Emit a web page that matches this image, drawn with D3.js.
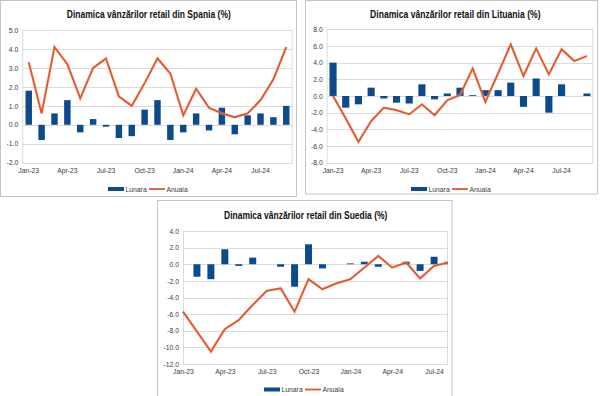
<!DOCTYPE html>
<html>
<head>
<meta charset="utf-8">
<script src="https://cdn.jsdelivr.net/npm/d3@7"></script>
<style>
  html, body { margin: 0; padding: 0; background: #ffffff; }
  svg { display: block; }
  text { font-family: "Liberation Sans", Arial, sans-serif; }
</style>
</head>
<body>
<svg id="chart" width="600" height="396"></svg>
<script>
// ---------- data ----------
const months21 = ["Jan-23","Feb-23","Mar-23","Apr-23","May-23","Jun-23","Jul-23","Aug-23","Sep-23","Oct-23","Nov-23","Dec-23",
                  "Jan-24","Feb-24","Mar-24","Apr-24","May-24","Jun-24","Jul-24","Aug-24","Sep-24"];
const months20 = months21.slice(0, 20);
const xTickLabels = ["Jan-23","Apr-23","Jul-23","Oct-23","Jan-24","Apr-24","Jul-24"];
const seriesNames = ["Lunara", "Anuala"];

const spainTitle = "Dinamica vânzărilor retail din Spania (%)";
const spainLunara = [1.8,-0.8,0.6,1.3,-0.4,0.3,-0.1,-0.7,-0.6,0.8,1.3,-0.8,-0.4,0.6,-0.3,0.9,-0.5,0.5,0.6,0.4,1.0];
const spainAnuala = [3.3,0.6,4.1,3.2,1.4,3.0,3.5,1.5,1.0,2.2,3.5,2.7,0.5,1.9,0.9,0.6,0.4,0.6,1.3,2.4,4.1];
const spainYTicks = [5,4,3,2,1,0,-1,-2];

const lituaniaTitle = "Dinamica vânzărilor retail din Lituania (%)";
const lituaniaLunara = [4.0,-1.4,-1.0,1.0,-0.3,-0.8,-0.9,1.4,-0.4,0.3,1.0,0.1,0.7,0.7,1.6,-1.3,2.1,-2.0,1.4,0.0,0.3];
const lituaniaAnuala = [0.0,-2.7,-5.5,-3.0,-1.4,-1.7,-2.2,-1.0,-2.3,-0.5,0.1,3.3,-0.7,2.7,6.2,2.4,5.7,2.6,5.6,4.2,4.8];
const lituaniaYTicks = [8,6,4,2,0,-2,-4,-6,-8];

const suediaTitle = "Dinamica vânzărilor retail din Suedia (%)";
const suediaLunara = [0.0,-1.5,-1.8,1.8,-0.2,0.8,0.0,-0.3,-2.7,2.4,-0.5,0.0,0.1,0.3,-0.3,0.0,0.3,-0.8,0.9,0.3];
const suediaAnuala = [-5.7,-8.1,-10.5,-7.8,-6.7,-4.9,-3.2,-2.9,-5.7,-1.8,-3.0,-2.3,-1.8,-0.4,1.0,-0.4,0.2,-1.7,-0.2,0.2];
const suediaYTicks = [4,2,0,-2,-4,-6,-8,-10,-12];

// ---------- styles ----------
const BLUE = "#0b4a8b";
const ORANGE = "#e0562c";
const GRID = "#dcdcdc";
const TXT = "#3a3a3a";

const svg = d3.select("#chart");
const fmt = v => v.toFixed(1);

function drawPanel(cfg, idx) {
  const g = svg.append("g");
  const clipId = "clip" + idx;

  // panel frame
  g.append("rect")
    .attr("x", cfg.panel[0]).attr("y", cfg.panel[1])
    .attr("width", cfg.panel[2]).attr("height", cfg.panel[3])
    .attr("fill", "#fff").attr("stroke", "#c4c4c4").attr("stroke-width", 1);

  const [L, T, R, B] = cfg.plot;
  const y = d3.scaleLinear().domain(d3.extent(cfg.yTicks)).range([B, T]);

  let x, bw;
  if (cfg.onTicks) {
    x = d3.scalePoint().domain(cfg.categories).range([L, R]).padding(0);
    bw = x.step() * 0.5;
  } else {
    x = d3.scaleBand().domain(cfg.categories).range([L, R]).paddingInner(0).paddingOuter(0);
    bw = x.bandwidth() * cfg.barRatio;
  }
  const cx = c => cfg.onTicks ? x(c) : x(c) + x.bandwidth() / 2;

  svg.append("clipPath").attr("id", clipId)
    .append("rect").attr("x", L).attr("y", T).attr("width", R - L).attr("height", B - T);

  // gridlines
  g.append("g").selectAll("line").data(cfg.yTicks).join("line")
    .attr("x1", L).attr("x2", R)
    .attr("y1", d => Math.round(y(d)) + 0.5).attr("y2", d => Math.round(y(d)) + 0.5)
    .attr("stroke", GRID).attr("stroke-width", 1);
  g.append("rect").attr("x", L + 0.5).attr("y", Math.round(T) + 0.5)
    .attr("width", R - L - 1).attr("height", Math.round(B) - Math.round(T))
    .attr("fill", "none").attr("stroke", GRID);

  // y axis labels
  const yAxis = d3.axisLeft(y).tickValues(cfg.yTicks).tickFormat(fmt).tickSize(0).tickPadding(4);
  const ya = g.append("g").attr("transform", `translate(${L},0)`).call(yAxis);
  ya.select(".domain").remove();
  ya.selectAll("text").attr("font-size", 6.8).attr("fill", TXT)
    .attr("font-family", "'Liberation Sans', Arial, sans-serif");

  // x axis labels
  const xAxis = d3.axisBottom(x).tickValues(xTickLabels).tickSize(0).tickPadding(5);
  const xa = g.append("g").attr("transform", `translate(0,${B})`).call(xAxis);
  xa.select(".domain").remove();
  if (!cfg.onTicks) {
    xa.selectAll(".tick").attr("transform", d => `translate(${cx(d)},0)`);
  }
  xa.selectAll("text").attr("font-size", 6.8).attr("fill", TXT)
    .attr("font-family", "'Liberation Sans', Arial, sans-serif");

  // bars
  const data = cfg.categories.map((c, i) => ({ c, m: cfg.lunara[i], a: cfg.anuala[i] }));
  g.append("g").attr("clip-path", `url(#${clipId})`)
    .selectAll("rect").data(data.filter(d => d.m !== 0)).join("rect")
    .attr("x", d => cx(d.c) - bw / 2)
    .attr("width", bw)
    .attr("y", d => y(Math.max(0, d.m)))
    .attr("height", d => Math.abs(y(d.m) - y(0)))
    .attr("fill", BLUE);

  // line
  const line = d3.line().x(d => cx(d.c)).y(d => y(d.a));
  g.append("path").datum(data)
    .attr("d", line).attr("fill", "none")
    .attr("stroke", "#f3b39c").attr("stroke-width", 3).attr("stroke-opacity", 0.45)
    .attr("stroke-linejoin", "miter");
  g.append("path").datum(data)
    .attr("d", line).attr("fill", "none")
    .attr("stroke", ORANGE).attr("stroke-width", 1.8)
    .attr("stroke-linejoin", "miter");

  // title
  g.append("text")
    .attr("x", cfg.titleX).attr("y", cfg.titleY)
    .attr("text-anchor", "middle")
    .attr("font-family", "'Liberation Sans Narrow', 'DejaVu Sans Condensed', 'Liberation Sans', sans-serif")
    .attr("font-weight", "bold").attr("font-size", 10.5)
    .attr("fill", "#111")
    .attr("textLength", cfg.titleW).attr("lengthAdjust", "spacingAndGlyphs")
    .text(cfg.title);

  // legend
  const lg = g.append("g").attr("transform", `translate(${cfg.legend[0]},${cfg.legend[1]})`);
  lg.append("rect").attr("x", 0).attr("y", -2).attr("width", 16).attr("height", 4).attr("fill", BLUE);
  lg.append("text").attr("x", 17.5).attr("y", 2.5).attr("font-size", 6.8).attr("fill", TXT).text(seriesNames[0]);
  lg.append("line").attr("x1", 41).attr("x2", 57).attr("y1", 0).attr("y2", 0)
    .attr("stroke", ORANGE).attr("stroke-width", 1.8);
  lg.append("text").attr("x", 58.5).attr("y", 2.5).attr("font-size", 6.8).attr("fill", TXT).text(seriesNames[1]);
}

drawPanel({
  title: spainTitle, categories: months21, lunara: spainLunara, anuala: spainAnuala, yTicks: spainYTicks,
  panel: [0.5, 0.5, 296, 196], plot: [22.3, 30, 292.7, 162.7], onTicks: false, barRatio: 0.5,
  titleX: 148.8, titleY: 17.5, titleW: 164, legend: [108, 189]
}, 0);

drawPanel({
  title: lituaniaTitle, categories: months21, lunara: lituaniaLunara, anuala: lituaniaAnuala, yTicks: lituaniaYTicks,
  panel: [305.5, 0.5, 292, 193.5], plot: [326.7, 29.3, 593.3, 162.7], onTicks: false, barRatio: 0.56,
  titleX: 455.3, titleY: 17.5, titleW: 170.5, legend: [411, 189]
}, 1);

drawPanel({
  title: suediaTitle, categories: months20, lunara: suediaLunara, anuala: suediaAnuala, yTicks: suediaYTicks,
  panel: [157.5, 200.5, 294.5, 198], plot: [183, 231, 448, 364], onTicks: true, barRatio: 0.5,
  titleX: 305.7, titleY: 219.3, titleW: 163.3, legend: [264, 389.5]
}, 2);
</script>
</body>
</html>
